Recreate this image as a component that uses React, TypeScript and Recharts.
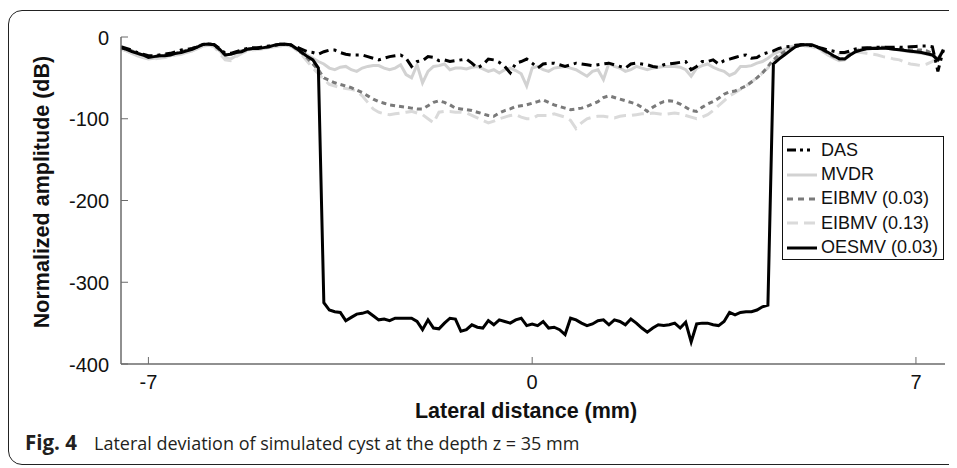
import React from "react";
import { LineChart, Line, XAxis, YAxis } from "recharts";

const FONT = '"Liberation Sans", Arial, Helvetica, sans-serif';
const AXIS_COLOR = "#6b6b6b";

// lateral positions in mm, sampled every 0.1 mm from -7.5 to 7.5
const LATERAL_MM = Array.from({ length: 151 }, (_, i) => (i - 75) / 10);

const X_TICKS = [-7, 0, 7];
const Y_TICKS = [0, -100, -200, -300, -400];

// normalized amplitude (dB), 10 samples per row
const DAS = [
  -12, -14, -16, -19, -21, -23, -23, -22, -21, -20,
  -18, -16, -15, -14, -12, -9, -8.5, -9.5, -14, -20,
  -20, -18, -16, -14, -13, -13, -12, -11, -10, -9,
  -9, -10, -12, -15, -18, -19, -21, -18, -16, -16,
  -19, -21, -22, -22, -22, -24, -26, -28, -26, -24,
  -23, -22, -26, -36, -30, -29, -24, -25, -29, -28,
  -30, -29, -28, -27, -32, -38, -34, -27, -28, -31,
  -36, -44, -32, -30, -27, -32, -38, -33, -32, -32,
  -34, -36, -34, -32, -33, -34, -35, -34, -33, -32,
  -34, -36, -38, -33, -32, -33, -34, -36, -37, -34,
  -33, -32, -31, -30, -40, -36, -30, -30, -28, -33,
  -29, -27, -25, -23, -22, -26, -25, -21, -19, -17,
  -14, -12, -11.5, -10, -9.5, -9.5, -10.5, -12.5, -14, -16,
  -17.5, -19, -19, -17, -14.5, -13.5, -13, -13, -12.5, -12.5,
  -12.5, -12.5, -12.5, -12.5, -12, -11.5, -11, -11, -12, -42,
  -16,
];

const MVDR = [
  -14, -17, -20, -23, -25, -27, -26, -25, -24, -23,
  -21, -20, -19, -17, -14, -11, -10, -11, -17, -25,
  -27, -23, -19, -16, -15, -15, -14, -13, -11, -10,
  -10, -11, -14, -18, -22, -26, -30, -33, -38, -40,
  -37, -36, -40, -42, -38, -36, -35, -35, -38, -40,
  -38, -34, -46, -50, -34, -56, -42, -36, -35, -33,
  -40, -38, -38, -39, -37, -36, -39, -42, -40, -44,
  -40, -38, -41, -45, -60, -38, -36, -40, -42, -38,
  -37, -36, -38, -40, -44, -48, -42, -40, -52, -32,
  -36, -38, -42, -40, -36, -38, -40, -38, -37, -36,
  -36, -36, -37, -40, -48, -38, -35, -33, -37, -40,
  -42, -47, -44, -36, -36, -35, -32, -30, -26, -21,
  -18, -15, -12, -11, -10, -10, -11, -13, -17, -22,
  -26, -29, -28, -22, -17, -15, -14, -14, -14, -14,
  -14, -15, -16, -17, -18, -19, -20, -21, -23, -26,
  -16,
];

const EIBMV_003 = [
  -13, -15, -17, -20, -22, -24, -24, -23, -22, -21,
  -20, -18, -16, -14, -11, -9, -8.5, -10, -16, -22,
  -21, -19, -17, -15, -14, -13, -13, -12, -10, -9,
  -9, -10, -15, -20, -26, -33, -40, -50, -53, -56,
  -58, -60, -62, -65, -68, -72, -76, -79, -81, -83,
  -84, -85, -86, -87, -88, -88, -84, -80, -78, -80,
  -83, -87, -88, -89, -90, -92, -94, -96, -97, -93,
  -90, -88, -85, -84, -83, -81, -79, -77, -80, -83,
  -85, -87, -89, -88, -87, -85, -82, -79, -74, -72,
  -74, -76, -78, -80, -82, -86, -91, -86, -82, -79,
  -78, -79, -82, -86, -90, -91, -86, -82, -79, -75,
  -70, -67, -66, -63, -60, -55, -50, -44, -36, -28,
  -22, -18, -15, -12, -10, -9.5, -10, -12, -16, -20,
  -24, -27, -26, -21, -17, -15, -14, -13.5, -13, -12.5,
  -13, -14, -14.5, -15.5, -16, -16, -16, -17, -20, -30,
  -15,
];

const EIBMV_013 = [
  -15, -17, -20, -22, -24, -26, -27, -26, -25, -24,
  -22, -21, -19, -17, -14, -11, -10, -12, -20, -28,
  -29, -24, -20, -17, -16, -15, -14, -13, -12, -11,
  -10, -11, -16, -22, -30, -38, -45, -52, -58, -60,
  -62, -63, -64, -66, -72, -80, -88, -92, -94, -95,
  -94, -93, -92, -91, -93, -95, -100, -105, -92, -91,
  -91, -92, -92, -93, -96, -99, -102, -105, -103, -100,
  -98, -96, -95, -98, -100, -100, -96, -96, -96, -94,
  -96, -98, -102, -112, -105, -100, -98, -97, -97, -98,
  -99, -97, -96, -96, -95, -94, -94, -93, -94, -95,
  -94, -93, -94, -96, -98, -100, -98, -95, -90, -84,
  -78, -72, -68, -64, -60, -55, -50, -44, -38, -30,
  -24, -19, -15, -12, -11, -11, -12, -14, -18, -22,
  -23, -21, -20, -19, -18, -19, -20, -21, -22, -24,
  -25, -27, -28, -31, -33, -34, -35, -33, -30, -25,
  -16,
];

const OESMV_003 = [
  -13, -15, -18, -20, -22, -25, -24, -23, -23, -22,
  -20, -19, -17, -15, -12, -9, -8.5, -9.5, -15, -22,
  -21, -19, -18, -15, -14, -14, -13, -12, -10, -9,
  -9, -9.5, -14, -19, -24, -28, -38, -325, -334, -336,
  -337, -347, -343, -339, -338, -336, -341, -346, -345, -347,
  -344, -344, -344, -344, -348, -358, -346, -356, -357, -350,
  -344, -345, -360, -358, -352, -355, -356, -347, -352, -346,
  -348, -350, -346, -344, -353, -351, -353, -348, -356, -355,
  -358, -364, -344, -346, -350, -353, -351, -347, -346, -352,
  -346, -348, -352, -345, -350, -356, -361, -356, -352, -353,
  -352, -350, -356, -349, -373, -351, -350, -350, -352, -353,
  -348, -337, -340, -337, -336, -336, -334, -330, -328, -33,
  -27, -22, -17, -12, -9.5, -9.5, -9.5, -12, -15.5, -19,
  -23, -26.5, -27, -22, -18, -16, -14.5, -14, -14, -13.5,
  -14, -15, -15.5, -16.5, -17.5, -18, -19, -20.5, -22, -28,
  -16,
];

const SERIES = [
  { key: "das", name: "DAS", values: DAS, color: "#000000", dash: "10 5 3 5", legendDash: "9 4 3 4 3 20" },
  { key: "mvdr", name: "MVDR", values: MVDR, color: "#d2d2d2", dash: undefined, legendDash: undefined },
  { key: "eibmv003", name: "EIBMV (0.03)", values: EIBMV_003, color: "#7a7a7a", dash: "5 4", legendDash: "6 5" },
  { key: "eibmv013", name: "EIBMV (0.13)", values: EIBMV_013, color: "#dadada", dash: "12 6", legendDash: "11 6" },
  { key: "oesmv003", name: "OESMV (0.03)", values: OESMV_003, color: "#000000", dash: undefined, legendDash: undefined },
];

// painted back to front
const DRAW_ORDER = ["mvdr", "eibmv013", "eibmv003", "das", "oesmv003"];

const data = LATERAL_MM.map((x, i) => {
  const row: Record<string, number> = { x };
  SERIES.forEach((s) => (row[s.key] = s.values[i]));
  return row;
});

// ticks point into the plot, like the MATLAB original
const XTick = ({ x, y, payload }: any) => (
  <g>
    <line x1={x} x2={x} y1={y} y2={y - 7} stroke={AXIS_COLOR} strokeWidth={1} />
    <text x={x} y={y + 24.5} textAnchor="middle" fontSize={20} fontFamily={FONT} fill="#111">
      {payload.value}
    </text>
  </g>
);

const YTick = ({ x, y, payload }: any) => (
  <g>
    <line x1={x} x2={x + 7} y1={y} y2={y} stroke={AXIS_COLOR} strokeWidth={1} />
    <text x={x - 12} y={y + 7.5} textAnchor="end" fontSize={20} fontFamily={FONT} fill="#111">
      {payload.value}
    </text>
  </g>
);

export default function App() {
  return (
    <div
      style={{
        position: "relative",
        width: 949,
        height: 460,
        overflow: "hidden",
        fontFamily: FONT,
        background: "#fff",
      }}
    >
      {/* figure frame, right side runs off the page */}
      <div
        style={{
          position: "absolute",
          left: 0,
          top: 2,
          width: 970,
          height: 455,
          border: "1px solid #222",
          borderRadius: 14,
          boxSizing: "border-box",
        }}
      />

      <div style={{ position: "absolute", left: 0, top: 0 }}>
        <LineChart
          width={941}
          height={420}
          data={data}
          margin={{ top: 29, right: 4, bottom: 0, left: 0 }}
        >
          <XAxis
            dataKey="x"
            type="number"
            domain={[-7.5, 7.53]}
            ticks={X_TICKS}
            allowDataOverflow
            height={64}
            tickSize={0}
            tickMargin={0}
            tickLine={false}
            tick={<XTick />}
            axisLine={{ stroke: AXIS_COLOR, strokeWidth: 1.5 }}
          />
          <YAxis
            type="number"
            domain={[-400, 0]}
            ticks={Y_TICKS}
            allowDataOverflow
            width={113}
            tickSize={0}
            tickMargin={0}
            tickLine={false}
            tick={<YTick />}
            axisLine={{ stroke: AXIS_COLOR, strokeWidth: 1.5 }}
          />
          {DRAW_ORDER.map((key) => {
            const s = SERIES.find((d) => d.key === key)!;
            return (
              <Line
                key={key}
                dataKey={key}
                name={s.name}
                type="linear"
                stroke={s.color}
                strokeWidth={3}
                strokeDasharray={s.dash}
                dot={false}
                activeDot={false}
                isAnimationActive={false}
              />
            );
          })}
        </LineChart>
      </div>

      {/* legend box */}
      <div
        style={{
          position: "absolute",
          left: 774,
          top: 128,
          width: 162,
          height: 124,
          border: "1.5px solid #111",
          background: "#fff",
          boxSizing: "border-box",
          paddingTop: 1,
        }}
      >
        {SERIES.map((s) => (
          <div
            key={s.key}
            style={{ display: "flex", alignItems: "center", height: 24.4, fontSize: 18, color: "#111" }}
          >
            <svg width={34} height={8} style={{ marginLeft: 3, marginRight: 1 }}>
              <line
                x1={1}
                x2={31}
                y1={4}
                y2={4}
                stroke={s.color}
                strokeWidth={3}
                strokeDasharray={s.legendDash}
              />
            </svg>
            <span style={{ whiteSpace: "nowrap" }}>{s.name}</span>
          </div>
        ))}
      </div>

      {/* axis titles */}
      <div
        style={{
          position: "absolute",
          left: 34,
          top: 184,
          transform: "translate(-50%, -50%) rotate(-90deg)",
          whiteSpace: "nowrap",
          fontSize: 21.5,
          fontWeight: "bold",
          color: "#111",
        }}
      >
        Normalized amplitude (dB)
      </div>
      <div
        style={{
          position: "absolute",
          left: 518,
          top: 403,
          transform: "translate(-50%, -50%)",
          whiteSpace: "nowrap",
          fontSize: 21.5,
          fontWeight: "bold",
          color: "#111",
        }}
      >
        Lateral distance (mm)
      </div>

      {/* caption */}
      <div
        style={{
          position: "absolute",
          left: 17,
          top: 420,
          whiteSpace: "nowrap",
          fontFamily: '"Open Sans", "Noto Sans", sans-serif',
          fontSize: 18,
          color: "#231f20",
        }}
      >
        <b style={{ fontSize: 20.5 }}>Fig. 4</b>
        <span style={{ marginLeft: 17 }}>Lateral deviation of simulated cyst at the depth z = 35 mm</span>
      </div>
    </div>
  );
}
